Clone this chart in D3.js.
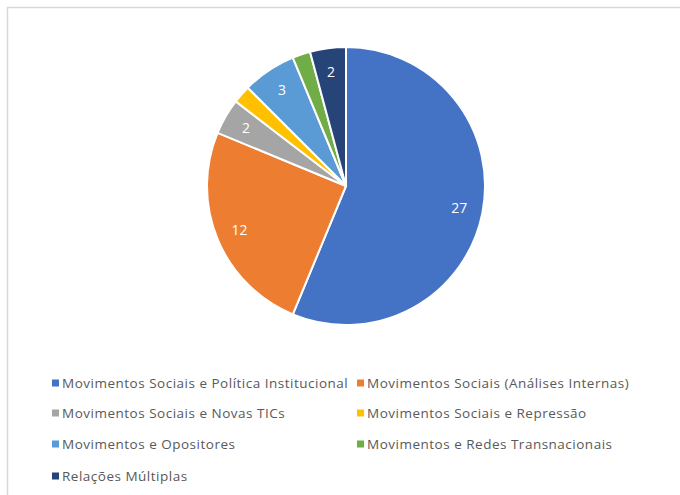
<!DOCTYPE html>
<html>
<head>
<meta charset="utf-8">
<script src="https://cdn.jsdelivr.net/npm/d3@7"></script>
<style>
  body { margin: 0; background: #fff; }
  svg { display: block; }
</style>
</head>
<body>
<div id="chart"></div>
<script>
// Données du graphique
const categories = [
    "Movimentos Sociais e Política Institucional",
    "Movimentos Sociais (Análises Internas)",
    "Movimentos Sociais e Novas TICs",
    "Movimentos Sociais e Repressão",
    "Movimentos e Opositores",
    "Movimentos e Redes Transnacionais",
    "Relações Múltiplas"
];
const values = [27, 12, 2, 1, 3, 1, 2];
const showLabel = [true, true, true, false, true, false, true];
const colors = ["#4472C4", "#ED7D31", "#A5A5A5", "#FFC000", "#5B9BD5", "#70AD47", "#264478"];

const width = 680, height = 495;
const cx = 346, cy = 186, radius = 139;

const svg = d3.select("#chart").append("svg")
    .attr("width", width)
    .attr("height", height);

// Cadre (seuls les bords haut et gauche sont visibles)
svg.append("rect")
    .attr("x", 7.5).attr("y", 7.5)
    .attr("width", 700).attr("height", 520)
    .attr("fill", "none")
    .attr("stroke", "#d9d9d9")
    .attr("stroke-width", 1.5);

const data = categories.map((c, i) => ({ name: c, value: values[i], color: colors[i], label: showLabel[i] }));

const pie = d3.pie().sort(null).value(d => d.value);
const arc = d3.arc().innerRadius(0).outerRadius(radius);
const labelArc = d3.arc().innerRadius(radius * 0.83).outerRadius(radius * 0.83);

const g = svg.append("g").attr("transform", `translate(${cx},${cy})`);

const arcs = pie(data);

g.selectAll("path")
    .data(arcs)
    .join("path")
    .attr("d", arc)
    .attr("fill", d => d.data.color)
    .attr("stroke", "#fff")
    .attr("stroke-width", 2);

g.selectAll("text")
    .data(arcs.filter(d => d.data.label))
    .join("text")
    .attr("transform", d => `translate(${labelArc.centroid(d)})`)
    .attr("text-anchor", "middle")
    .attr("dy", "0.35em")
    .style("font-family", "'Open Sans', sans-serif")
    .style("font-size", "14px")
    .style("fill", "#fff")
    .text(d => d.data.value);

// Légende
const colX = [52, 357];
const rowY = [383, 413, 444, 476];

const legend = svg.append("g")
    .selectAll("g")
    .data(data)
    .join("g")
    .attr("transform", (d, i) => `translate(${colX[i % 2]},${rowY[Math.floor(i / 2)]})`);

legend.append("rect")
    .attr("x", 0).attr("y", -3.5)
    .attr("width", 7).attr("height", 7)
    .attr("fill", d => d.color);

legend.append("text")
    .attr("x", 10)
    .attr("dy", "0.35em")
    .style("font-family", "'Open Sans', sans-serif")
    .style("font-size", "13.5px")
    .style("letter-spacing", "0.5px")
    .style("fill", "#595959")
    .text(d => d.name);
</script>
</body>
</html>
